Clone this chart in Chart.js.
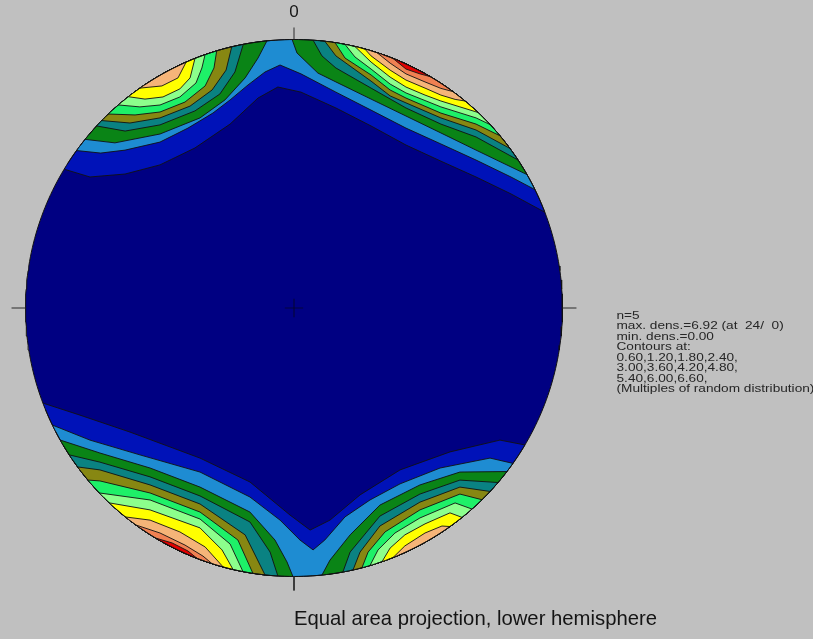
<!DOCTYPE html>
<html>
<head>
<meta charset="utf-8">
<script src="https://cdn.jsdelivr.net/npm/chart.js@4/dist/chart.umd.min.js"></script>
<style>
  html, body { margin: 0; padding: 0; background: #c0c0c0; }
  canvas { display: block; }
</style>
</head>
<body>
<canvas id="net" width="813" height="639"></canvas>
<script>
// ---------- density summary ----------
const sampleCount = 5;
const maxDensity = 6.92;
const maxDensityAt = [24, 0];
const minDensity = 0.00;
const contourLevels = [0.60, 1.20, 1.80, 2.40, 3.00, 3.60, 4.20, 4.80, 5.40, 6.00, 6.60];

// ---------- contour lines (equal-area net, unit radius, x = east, y = north) ----------
// Each line runs from the primitive to the primitive; the denser side lies toward the rim.
const top060 = [[-0.851,0.514],[-0.760,0.488],[-0.629,0.499],[-0.499,0.533],[-0.369,0.596],[-0.238,0.685],[-0.134,0.782],[-0.060,0.823],[0.026,0.804],[0.156,0.745],[0.287,0.678],[0.417,0.607],[0.547,0.547],[0.678,0.488],[0.808,0.425],[0.927,0.354]];
const top120 = [[-0.804,0.582],[-0.720,0.577],[-0.629,0.588],[-0.499,0.618],[-0.395,0.670],[-0.302,0.726],[-0.238,0.775],[-0.171,0.831],[-0.108,0.879],[-0.052,0.905],[0.026,0.872],[0.156,0.804],[0.287,0.737],[0.417,0.670],[0.547,0.611],[0.678,0.551],[0.808,0.488],[0.894,0.439]];
const bottom060 = [[-0.935,-0.354],[-0.797,-0.399],[-0.611,-0.462],[-0.350,-0.559],[-0.164,-0.648],[-0.015,-0.771],[0.060,-0.827],[0.134,-0.790],[0.246,-0.696],[0.395,-0.603],[0.581,-0.536],[0.767,-0.492],[0.860,-0.510]];
const bottom120 = [[-0.900,-0.436],[-0.760,-0.492],[-0.574,-0.547],[-0.350,-0.611],[-0.164,-0.704],[-0.052,-0.790],[0.022,-0.864],[0.071,-0.901],[0.115,-0.864],[0.190,-0.778],[0.283,-0.715],[0.395,-0.655],[0.544,-0.596],[0.730,-0.559],[0.816,-0.579]];

// north-east cluster
const ne180 = [[-0.007,1.000],[0.011,0.950],[0.089,0.875],[0.156,0.842],[0.287,0.778],[0.417,0.715],[0.547,0.652],[0.678,0.588],[0.786,0.536],[0.868,0.497]];
const ne240 = [[0.071,0.997],[0.104,0.939],[0.156,0.894],[0.287,0.819],[0.417,0.745],[0.547,0.685],[0.678,0.637],[0.834,0.551]];
const ne300 = [[0.115,0.993],[0.156,0.939],[0.287,0.845],[0.358,0.790],[0.417,0.764],[0.547,0.708],[0.678,0.663],[0.804,0.594]];
const ne360 = [[0.153,0.988],[0.190,0.931],[0.287,0.868],[0.358,0.812],[0.417,0.782],[0.547,0.726],[0.678,0.685],[0.767,0.641]];
const ne420 = [[0.190,0.982],[0.227,0.935],[0.287,0.890],[0.358,0.834],[0.417,0.801],[0.547,0.749],[0.678,0.708],[0.730,0.683]];
const ne480 = [[0.227,0.974],[0.287,0.916],[0.358,0.860],[0.417,0.823],[0.488,0.793],[0.547,0.771],[0.618,0.749],[0.685,0.728]];
const ne540 = [[0.264,0.965],[0.287,0.939],[0.358,0.886],[0.417,0.849],[0.488,0.819],[0.547,0.793],[0.600,0.777],[0.637,0.771]];
const ne600 = [[0.309,0.951],[0.358,0.912],[0.417,0.872],[0.488,0.842],[0.547,0.818],[0.592,0.806]];
const ne660 = [[0.369,0.930],[0.417,0.890],[0.469,0.872],[0.507,0.862]];

// north-west cluster
const nw180 = [[-0.778,0.628],[-0.667,0.615],[-0.499,0.648],[-0.350,0.708],[-0.257,0.775],[-0.182,0.857],[-0.134,0.931],[-0.101,0.998]];
const nw240 = [[-0.735,0.678],[-0.629,0.659],[-0.499,0.682],[-0.369,0.734],[-0.276,0.797],[-0.220,0.879],[-0.189,0.982]];
const nw300 = [[-0.716,0.698],[-0.611,0.689],[-0.499,0.708],[-0.387,0.752],[-0.305,0.812],[-0.253,0.886],[-0.232,0.973]];
const nw360 = [[-0.692,0.723],[-0.592,0.719],[-0.499,0.730],[-0.406,0.767],[-0.331,0.827],[-0.298,0.894],[-0.288,0.958]];
const nw420 = [[-0.654,0.756],[-0.574,0.749],[-0.499,0.756],[-0.425,0.786],[-0.365,0.838],[-0.343,0.894],[-0.331,0.943]];
const nw480 = [[-0.617,0.787],[-0.555,0.778],[-0.488,0.786],[-0.425,0.816],[-0.387,0.857],[-0.369,0.930]];
const nw540 = [[-0.574,0.819],[-0.492,0.827],[-0.432,0.857],[-0.402,0.916]];

// south-west cluster
const sw180 = [[-0.871,-0.492],[-0.723,-0.540],[-0.536,-0.596],[-0.350,-0.667],[-0.164,-0.760],[-0.071,-0.864],[-0.026,-0.946],[-0.004,-1.000]];
const sw240 = [[-0.837,-0.547],[-0.723,-0.574],[-0.536,-0.629],[-0.350,-0.700],[-0.164,-0.797],[-0.089,-0.909],[-0.060,-0.998]];
const sw300 = [[-0.806,-0.592],[-0.723,-0.603],[-0.536,-0.659],[-0.350,-0.730],[-0.182,-0.845],[-0.108,-0.994]];
const sw360 = [[-0.768,-0.641],[-0.723,-0.644],[-0.536,-0.689],[-0.350,-0.760],[-0.209,-0.864],[-0.153,-0.988]];
const sw420 = [[-0.725,-0.689],[-0.536,-0.715],[-0.350,-0.786],[-0.238,-0.879],[-0.190,-0.982]];
const sw480 = [[-0.688,-0.726],[-0.536,-0.752],[-0.350,-0.819],[-0.268,-0.901],[-0.227,-0.974]];
const sw540 = [[-0.628,-0.778],[-0.536,-0.790],[-0.425,-0.834],[-0.331,-0.890],[-0.264,-0.965]];
const sw600 = [[-0.589,-0.808],[-0.499,-0.838],[-0.406,-0.883],[-0.339,-0.924],[-0.305,-0.952]];
const sw660 = [[-0.516,-0.857],[-0.454,-0.875],[-0.395,-0.905],[-0.361,-0.933]];

// south-east cluster
const se180 = [[0.104,-0.994],[0.134,-0.939],[0.209,-0.845],[0.320,-0.734],[0.469,-0.659],[0.618,-0.611],[0.793,-0.609]];
const se240 = [[0.182,-0.983],[0.209,-0.909],[0.320,-0.775],[0.469,-0.693],[0.618,-0.641],[0.760,-0.650]];
const se300 = [[0.220,-0.976],[0.246,-0.909],[0.320,-0.812],[0.469,-0.723],[0.618,-0.667],[0.730,-0.683]];
const se360 = [[0.253,-0.967],[0.276,-0.909],[0.339,-0.834],[0.469,-0.752],[0.618,-0.693],[0.700,-0.714]];
const se420 = [[0.283,-0.959],[0.313,-0.901],[0.376,-0.838],[0.469,-0.782],[0.600,-0.726],[0.663,-0.749]];
const se480 = [[0.328,-0.945],[0.358,-0.894],[0.413,-0.845],[0.488,-0.804],[0.581,-0.763],[0.626,-0.780]];
const se540 = [[0.369,-0.930],[0.413,-0.886],[0.488,-0.838],[0.551,-0.812],[0.581,-0.814]];

// lines belonging to each contour level, lowest level first
const linesByLevel = [
  [top060, bottom060],
  [top120, bottom120],
  [nw180, ne180, sw180, se180],
  [nw240, ne240, sw240, se240],
  [nw300, ne300, sw300, se300],
  [nw360, ne360, sw360, se360],
  [nw420, ne420, sw420, se420],
  [nw480, ne480, sw480, se480],
  [nw540, ne540, sw540, se540],
  [ne600, sw600],
  [ne660, sw660]
];

// fill colour below the first level, then above each level
const bandColors = ['#000082', '#0012b8', '#1e8cd2', '#0a8416', '#0a8282', '#878712',
                    '#1ef068', '#8cff8c', '#ffff00', '#f5b478', '#f08052', '#e00000'];

// ---------- geometry helpers ----------
const DEG = Math.PI / 180;

function primitivePoints(step) {
  const pts = [];
  for (let a = 0; a <= 360; a += step) pts.push({ x: Math.sin(a * DEG), y: Math.cos(a * DEG) });
  return pts;
}

// closes a contour line along the shorter arc of the primitive
function closedRegion(line) {
  const pts = line.map(([x, y]) => ({ x, y }));
  const snap = p => { const r = Math.hypot(p.x, p.y); return { x: p.x / r, y: p.y / r }; };
  pts[0] = snap(pts[0]);
  pts[pts.length - 1] = snap(pts[pts.length - 1]);
  const first = pts[0], last = pts[pts.length - 1];
  const a0 = Math.atan2(last.x, last.y);
  const a1 = Math.atan2(first.x, first.y);
  let d = a1 - a0;
  while (d > Math.PI) d -= 2 * Math.PI;
  while (d < -Math.PI) d += 2 * Math.PI;
  const n = Math.max(2, Math.ceil(Math.abs(d) / (1.5 * DEG)));
  for (let i = 1; i < n; i++) {
    const a = a0 + d * i / n;
    pts.push({ x: Math.sin(a), y: Math.cos(a) });
  }
  return pts;
}

// ---------- datasets ----------
const datasets = [];
let drawIndex = 0;
function addDataset(ds) { ds.order = 1000 - drawIndex++; datasets.push(ds); }

const contourStroke = 'rgba(18,18,18,0.9)';

addDataset({
  data: primitivePoints(1), polyFill: bandColors[0],
  showLine: true, borderWidth: 0, borderColor: 'rgba(0,0,0,0)', pointRadius: 0
});

linesByLevel.forEach((lines, k) => {
  lines.forEach(line => {
    addDataset({
      data: closedRegion(line), polyFill: bandColors[k + 1],
      showLine: true, borderWidth: 1, borderColor: contourStroke, pointRadius: 0
    });
  });
});

// centre cross
const crossHalf = 0.034;
const crossColor = 'rgba(5,5,45,0.8)';
addDataset({ data: [{ x: -crossHalf, y: 0 }, { x: crossHalf, y: 0 }], showLine: true, borderWidth: 1.2, borderColor: crossColor, pointRadius: 0 });
addDataset({ data: [{ x: 0, y: -crossHalf }, { x: 0, y: crossHalf }], showLine: true, borderWidth: 1.2, borderColor: crossColor, pointRadius: 0 });

// primitive outline
addDataset({ data: primitivePoints(1), showLine: true, borderWidth: 1, borderColor: '#111', pointRadius: 0, clip: false });

// N, E, S, W ticks outside the primitive
const tickLen = 0.052;
[[0, 1, 0, 1 + tickLen * 0.86], [1, 0, 1 + tickLen, 0], [0, -1, 0, -1 - tickLen], [-1, 0, -1 - tickLen, 0]]
  .forEach(([x0, y0, x1, y1]) => addDataset({
    data: [{ x: x0, y: y0 }, { x: x1, y: y1 }], showLine: true, borderWidth: 1,
    borderColor: '#2a2a2a', pointRadius: 0, clip: false
  }));

// ---------- plugins ----------
const regionFill = {
  id: 'regionFill',
  beforeDatasetDraw(chart, args) {
    const ds = chart.data.datasets[args.index];
    if (!ds.polyFill) return;
    const pts = args.meta.data;
    const ctx = chart.ctx;
    ctx.save();
    ctx.beginPath();
    pts.forEach((p, i) => (i ? ctx.lineTo(p.x, p.y) : ctx.moveTo(p.x, p.y)));
    ctx.closePath();
    ctx.fillStyle = ds.polyFill;
    ctx.fill();
    ctx.restore();
  }
};

function levelText() {
  const rows = [];
  for (let i = 0; i < contourLevels.length; i += 4) {
    rows.push(contourLevels.slice(i, i + 4).map(v => v.toFixed(2)).join(',') + ',');
  }
  return rows;
}

const annotations = {
  id: 'annotations',
  afterDraw(chart) {
    const ctx = chart.ctx;
    const xs = chart.scales.x, ys = chart.scales.y;
    const cx = xs.getPixelForValue(0);
    ctx.save();
    ctx.fillStyle = '#161616';
    ctx.textBaseline = 'alphabetic';

    ctx.font = '17px "Liberation Sans", Arial, sans-serif';
    ctx.textAlign = 'center';
    ctx.fillText('0', cx, ys.getPixelForValue(1) - 22.5);

    const lines = [
      'n=' + sampleCount,
      'max. dens.=' + maxDensity.toFixed(2) + ' (at  ' + maxDensityAt[0] + '/  ' + maxDensityAt[1] + ')',
      'min. dens.=' + minDensity.toFixed(2),
      'Contours at:',
      ...levelText(),
      '(Multiples of random distribution)'
    ];
    ctx.font = '11px "Liberation Sans", Arial, sans-serif';
    ctx.fillStyle = '#262626';
    ctx.textAlign = 'left';
    const tx = xs.getPixelForValue(1) + 54;
    const ty = ys.getPixelForValue(0) + 10.8;
    lines.forEach((s, i) => {
      ctx.save();
      ctx.translate(tx, ty + i * 10.45);
      ctx.scale(1.24, 1);
      ctx.fillText(s, 0, 0);
      ctx.restore();
    });

    ctx.font = '20.3px "Liberation Sans", Arial, sans-serif';
    ctx.fillStyle = '#141414';
    ctx.fillText('Equal area projection, lower hemisphere', cx, ys.getPixelForValue(-1) + 48.5);
    ctx.restore();
  }
};

new Chart(document.getElementById('net'), {
  type: 'scatter',
  data: { datasets },
  options: {
    responsive: false,
    animation: false,
    events: [],
    layout: { padding: { left: 25.5, right: 250.5, top: 39.5, bottom: 62.5 } },
    scales: {
      x: { type: 'linear', min: -1, max: 1, display: false },
      y: { type: 'linear', min: -1, max: 1, display: false }
    },
    elements: { line: { tension: 0 } },
    plugins: { legend: { display: false }, tooltip: { enabled: false } }
  },
  plugins: [regionFill, annotations]
});
</script>
</body>
</html>
